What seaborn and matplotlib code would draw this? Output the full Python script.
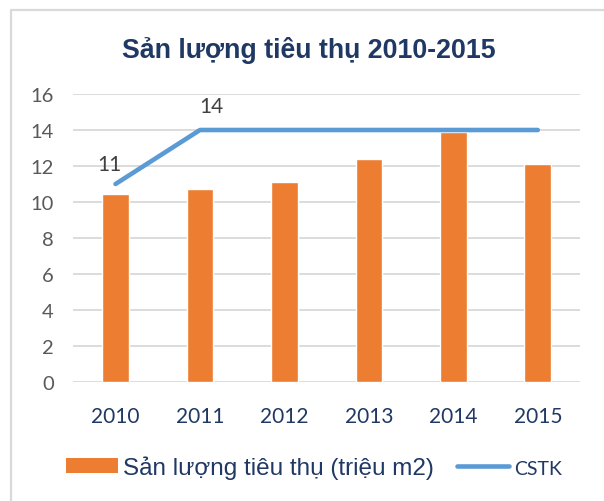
import numpy as np
import pandas as pd
import matplotlib
matplotlib.use("Agg")
import matplotlib.pyplot as plt
from matplotlib.patches import Patch
from matplotlib.lines import Line2D
import seaborn as sns

# ---- data ----
years = ["2010", "2011", "2012", "2013", "2014", "2015"]
consumption = [10.45, 10.7, 11.1, 12.4, 13.9, 12.1]
cstk = [11, 14, 14, 14, 14, 14]
labelled = [True, True, False, False, False, False]
yticks = [0, 2, 4, 6, 8, 10, 12, 14, 16]
title = "Sản lượng tiêu thụ 2010-2015"
bar_label = "Sản lượng tiêu thụ (triệu m2)"
line_label = "CSTK"

# ---- style ----
ORANGE = "#ED7D31"
BLUE = "#5B9BD5"
NAVY = "#1F3864"
GRID = "#D9D9D9"

sns.set_theme(style="white")
plt.rcParams["font.family"] = ["Liberation Sans", "DejaVu Sans"]

W, H = 604, 502
fig = plt.figure(figsize=(W / 100, H / 100), dpi=100)
fig.patch.set_facecolor("white")
ax = fig.add_axes([73.3 / W, 1 - 383 / H, (580 - 73.3) / W, (383 - 95) / H])

df = pd.DataFrame({"year": years, "val": consumption})
sns.barplot(data=df, x="year", y="val", color=ORANGE, width=0.316,
            saturation=1, ax=ax, zorder=2)

pos = np.arange(len(years))
sns.lineplot(x=pos, y=cstk, color=BLUE, linewidth=3.3, ax=ax, zorder=3,
             solid_capstyle="round")

# data labels
offsets = [(-6, 19.5), (11, 23.5)]
k = 0
for i, (v, show) in enumerate(zip(cstk, labelled)):
    if show:
        dx, dy = offsets[k]
        k += 1
        ax.annotate(f"{v}", (pos[i], v), xytext=(dx, dy), textcoords="offset pixels",
                    ha="center", va="center", fontsize=15, color="#404040",
                    family=["Lato", "DejaVu Sans"])

ax.set_ylim(0, 16)
ax.set_xlim(-0.5, len(years) - 0.5)
ax.set_yticks(yticks)
ax.set_yticklabels([str(t) for t in yticks])
ax.set_xlabel("")
ax.set_ylabel("")
ax.grid(axis="y", color=GRID, linewidth=1.3, zorder=0)
ax.set_axisbelow(True)
for s in ax.spines.values():
    s.set_visible(False)
ax.tick_params(axis="y", length=0, pad=14, labelsize=14.5, labelcolor="#595959")
ax.tick_params(axis="x", length=0, pad=17, labelsize=15, labelcolor=NAVY)
for lab in ax.get_xticklabels() + ax.get_yticklabels():
    lab.set_family(["Lato", "DejaVu Sans"])

# title
fig.text(309 / W, 1 - 58 / H, title, ha="center", va="baseline",
         fontsize=19.3, fontweight="bold", color=NAVY)

# legend
handles = [Patch(facecolor=ORANGE, edgecolor="none"),
           Line2D([], [], color=BLUE, linewidth=3.3, solid_capstyle="round")]
leg = fig.legend(handles, [bar_label, line_label], loc="center",
                 bbox_to_anchor=(314 / W, 1 - 468 / H), ncol=2, frameon=False,
                 fontsize=17.5, handlelength=2.14, handleheight=0.55,
                 handletextpad=0.19, columnspacing=0.96)
for t in leg.get_texts():
    t.set_color(NAVY)
leg.get_texts()[1].set_family(["Lato", "DejaVu Sans"])
leg.get_texts()[1].set_fontsize(14)

# chart frame (left and top)
fig.add_artist(Line2D([11 / W, 11 / W, 1], [0, 1 - 11 / H, 1 - 11 / H],
                      transform=fig.transFigure, color=GRID, linewidth=1.6))

fig.savefig("out.png", dpi=100, facecolor="white")
